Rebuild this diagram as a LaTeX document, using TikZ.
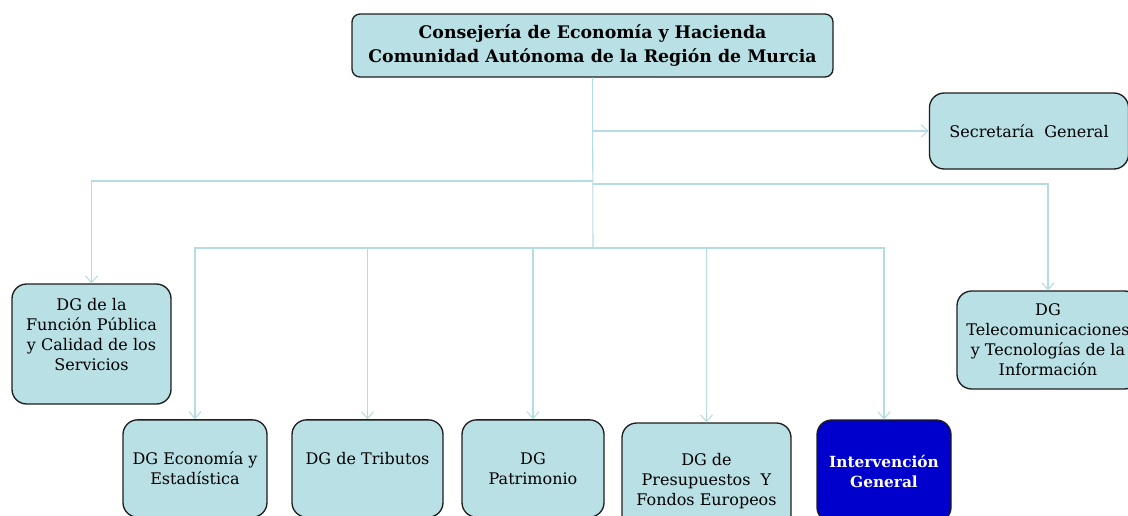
\documentclass[tikz,border=0pt]{standalone}
\usepackage{fontspec}
\setmainfont{DejaVu Serif}
\usepackage{tikz}
\usepackage{xcolor}
\usetikzlibrary{arrows.meta,positioning}
\definecolor{boxteal}{RGB}{185,224,228}
\definecolor{linkteal}{RGB}{181,220,226}
\definecolor{deepblue}{RGB}{0,0,204}
\definecolor{edgegray}{RGB}{30,30,30}

\begin{document}
\begin{tikzpicture}[x=0.75pt, y=-0.75pt,
    unit/.style={draw=edgegray, line width=1pt, fill=boxteal, rounded corners=11pt,
      align=center, font=\fontsize{12}{15}\selectfont, inner sep=2pt},
    head/.style={unit, rounded corners=6pt, font=\bfseries\fontsize{13}{18}\selectfont},
    conn/.style={linkteal, line width=0.8pt, -{Straight Barb[length=5pt, width=9pt]}},
    trunk/.style={linkteal, line width=0.8pt}]
      \useasboundingbox (0,0) rectangle (1128,515);
      % top and side units
      \node[head, minimum width=360.75pt, minimum height=47.25pt] (cons) at (592.5,45.5)
        {Consejería de Economía y Hacienda\\Comunidad Autónoma de la Región de Murcia};
      \node[unit, minimum width=149.25pt, minimum height=57pt] (secg) at (1029,131) {Secretaría~ General};
      \node[unit, minimum width=119.25pt, minimum height=90pt] (fpub) at (91.5,344)
        {DG de la\\Función Pública\\y Calidad de los\\Servicios\\~};
      \node[unit, minimum width=136.5pt, minimum height=73.5pt] (tele) at (1048,340)
        {DG\\Telecomunicaciones\\y Tecnologías de la\\Información};
      % bottom row
      \node[unit, minimum width=108pt, minimum height=73pt] (econ) at (195,468.5) {DG Economía y\\Estadística};
      \node[unit, minimum width=113.25pt, minimum height=73pt] (trib) at (367.5,468.5) {DG de Tributos\\~};
      \node[unit, minimum width=106.5pt, minimum height=73pt] (patr) at (533,468.5) {DG\\Patrimonio};
      \node[unit, minimum width=126.75pt, minimum height=87.75pt] (pres) at (706.5,481.5)
        {DG de\\Presupuestos~ Y\\Fondos Europeos};
      \node[unit, fill=deepblue, text=white, font=\bfseries\fontsize{11.5}{15}\selectfont,
        minimum width=100.5pt, minimum height=76.5pt] (intv) at (884,471) {Intervención\\General};
      % connectors
      \coordinate (hub) at (593,248);
      \coordinate (joinl) at (593,181);
      \coordinate (joinr) at (593,184);
      \draw[trunk] (cons.south) -- (hub);
      \draw[conn] (cons.south) |- (secg.west);
      \draw[conn] (joinl) -| (fpub.north);
      \draw[conn] (joinr) -| (tele.north);
      \draw[conn] (hub) -| (econ.north);
      \draw[conn] (hub) -| (trib.north);
      \draw[conn] (hub) -| (patr.north);
      \draw[conn] (hub) -| (pres.north);
      \draw[conn] (hub) -| (intv.north);
    \end{tikzpicture}
\end{document}
